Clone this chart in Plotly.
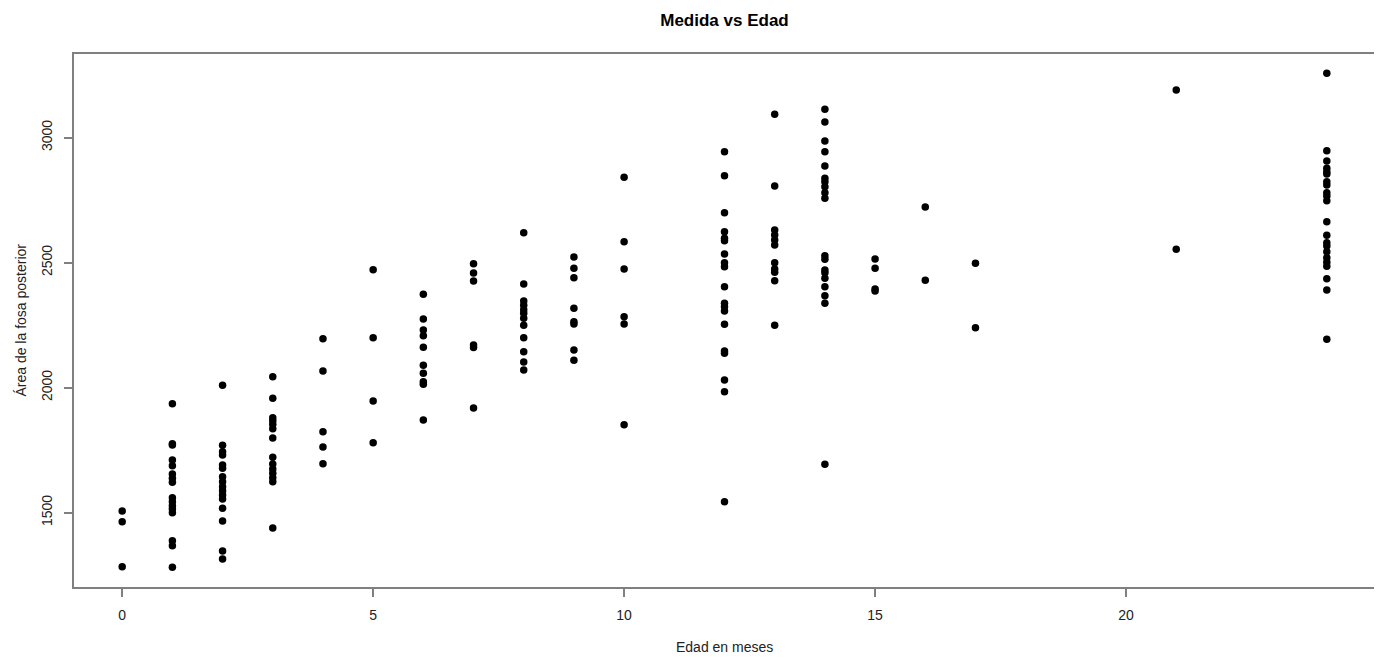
import plotly.graph_objects as go

edades = [0, 1, 2, 3, 4, 5, 6, 7, 8, 9, 10, 12, 13, 14, 15, 16, 17, 21, 24]

area_0 = [1506, 1463, 1283]
area_1 = [1935, 1775, 1770, 1710, 1687, 1654, 1637, 1621, 1559, 1543, 1527, 1514, 1499, 1387, 1367, 1281]
area_2 = [2009, 1769, 1743, 1730, 1690, 1677, 1643, 1623, 1603, 1587, 1570, 1554, 1517, 1466, 1346, 1314]
area_3 = [2043, 1957, 1879, 1867, 1853, 1835, 1798, 1721, 1694, 1674, 1657, 1639, 1623, 1438]
area_4 = [2195, 2066, 1823, 1762, 1695]
area_5 = [2471, 2199, 1946, 1779]
area_6 = [2373, 2274, 2230, 2207, 2161, 2089, 2057, 2023, 2013, 1870]
area_7 = [2495, 2458, 2426, 2170, 2160, 1918]
area_8 = [2619, 2414, 2346, 2329, 2311, 2297, 2277, 2249, 2199, 2143, 2102, 2070]
area_9 = [2522, 2477, 2439, 2317, 2263, 2254, 2150, 2109]
area_10 = [2841, 2583, 2474, 2283, 2254, 1851]
area_12 = [2943, 2847, 2699, 2623, 2597, 2587, 2534, 2499, 2483, 2403, 2337, 2323, 2306, 2253, 2146, 2137, 2030, 1983, 1543]
area_13 = [3093, 2806, 2630, 2610, 2590, 2570, 2499, 2474, 2461, 2427, 2249]
area_14 = [3113, 3062, 2986, 2943, 2886, 2837, 2823, 2803, 2779, 2757, 2527, 2513, 2470, 2459, 2437, 2403, 2367, 2337, 1693]
area_15 = [2514, 2477, 2394, 2386]
area_16 = [2722, 2429]
area_17 = [2497, 2239]
area_21 = [3190, 2553]
area_24 = [3257, 2947, 2906, 2877, 2863, 2854, 2823, 2810, 2779, 2766, 2747, 2663, 2609, 2579, 2566, 2543, 2519, 2501, 2485, 2435, 2390, 2193]

grupos = [area_0, area_1, area_2, area_3, area_4, area_5, area_6, area_7, area_8, area_9,
          area_10, area_12, area_13, area_14, area_15, area_16, area_17, area_21, area_24]

x_ticks = [0, 5, 10, 15, 20]
y_ticks = [1500, 2000, 2500, 3000]

xs, ys = [], []
for edad, vals in zip(edades, grupos):
    xs.extend([edad] * len(vals))
    ys.extend(vals)

FONT = "Liberation Sans, Arial, sans-serif"
AXC = "#808080"

# page body has an 8px default margin, so the figure is sized/placed to compensate
W, H = 1374, 651

fig = go.Figure(go.Scatter(
    x=xs, y=ys, mode="markers",
    marker=dict(color="black", size=7.5, line=dict(width=0)),
    hoverinfo="x+y",
))

fig.update_layout(
    width=W, height=H,
    margin=dict(l=66, r=5, t=46, b=72),
    paper_bgcolor="white", plot_bgcolor="white",
    showlegend=False,
    font=dict(family=FONT, size=14, color="#222222"),
    title=dict(text="<b>Medida vs Edad</b>", x=0.5, xref="paper", y=1 - 12 / H,
               yanchor="middle", xanchor="center",
               font=dict(family=FONT, size=17, color="black")),
    xaxis=dict(range=[-0.96, 24.96], tickvals=x_ticks, showgrid=False, zeroline=False,
               showline=True, mirror=True, linecolor=AXC, linewidth=2,
               ticks="outside", ticklen=8, tickwidth=1.5, tickcolor=AXC,
               ticklabelstandoff=6, tickfont=dict(size=14, color="#222222")),
    yaxis=dict(range=[1202, 3334], tickvals=y_ticks, showgrid=False, zeroline=False,
               showline=True, mirror=True, linecolor=AXC, linewidth=2,
               ticks="outside", ticklen=8, tickwidth=1.5, tickcolor=AXC,
               tickangle=-90, ticklabelstandoff=6, tickfont=dict(size=14, color="#222222")),
    annotations=[
        dict(text="Edad en meses", xref="paper", yref="paper", x=0.5, y=-(647 - 587) / 533,
             xanchor="center", yanchor="middle", showarrow=False,
             font=dict(family=FONT, size=14, color="#222222")),
        dict(text="Área de la fosa posterior", xref="paper", yref="paper",
             x=-(74 - 20) / 1303, y=0.5, xanchor="center", yanchor="middle",
             textangle=-90, showarrow=False,
             font=dict(family=FONT, size=14, color="#222222")),
    ],
)

fig.write_html("out.html")
